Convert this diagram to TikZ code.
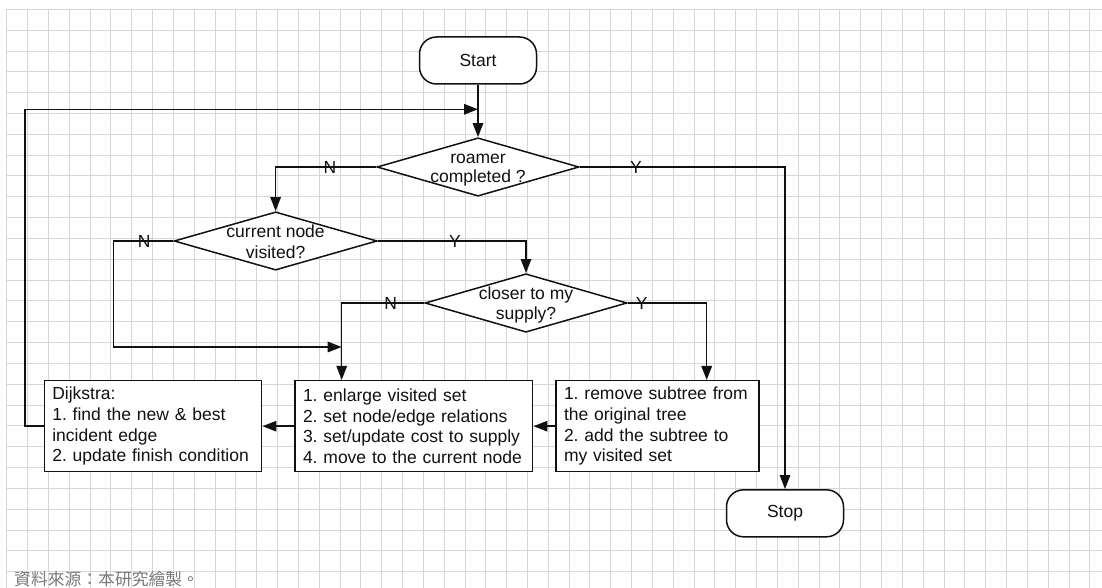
\documentclass[tikz,border=0pt]{standalone}
\usepackage{fontspec}
\setmainfont{Liberation Sans}
\newfontfamily\cjk{Noto Sans CJK TC}
\usetikzlibrary{shapes.geometric,arrows.meta}
\frenchspacing
\definecolor{gridgray}{HTML}{D6D6D6}
\definecolor{ink}{HTML}{111111}
\definecolor{notegray}{HTML}{7A7A7A}
\tikzset{
  txt/.style={font=\fontsize{17.5pt}{20.7pt}\selectfont, text=ink},
  gridline/.style={draw=gridgray, line width=0.9pt},
  terminal/.style={txt, draw=ink, line width=1.5pt, fill=white, rounded corners=17pt,
    minimum width=117pt, minimum height=47pt, inner sep=0pt},
  decision/.style={draw=ink, line width=1.5pt, fill=white, diamond, inner sep=0pt},
  dtext/.style={txt, align=center, inner sep=0pt},
  stepbox/.style={txt, draw=ink, line width=1.5pt, fill=white, align=left,
    inner xsep=8pt, inner ysep=0pt, minimum height=91pt},
  arr/.style={draw=ink, line width=1.5pt, -{Triangle[length=14pt,width=10.5pt]}},
  yn/.style={txt, inner sep=0pt}
}
\begin{document}
\begin{tikzpicture}[x=1pt, y=-1pt]
\useasboundingbox (0,0) rectangle (1102,588);
\fill[white] (0,0) rectangle (1102,588);
% background grid
\foreach \i in {0,...,52}
  \draw[gridline] ({6.7+20.83*\i}, 9.3) -- ({6.7+20.83*\i}, 588);
\foreach \j in {0,...,27}
  \draw[gridline] (6.7, {9.3+20.83*\j}) -- (1102, {9.3+20.83*\j});

% terminals
\node[terminal] (start) at (478,60.5) {Start};
\node[terminal] (stop) at (785,513.3) {Stop};

% decisions
\node[decision, minimum width=202pt, minimum height=58.4pt] (d1) at (478,167) {};
\node[dtext, font=\fontsize{17.5pt}{19.4pt}\selectfont] (d1t) at (478,170) {roamer\\completed ?};
\node[decision, minimum width=203pt, minimum height=58.3pt] (d2) at (275.6,241) {};
\node[dtext] (d2t) at (275.6,242) {current node\\visited?};
\node[decision, minimum width=202pt, minimum height=58.5pt] (d3) at (526,303) {};
\node[dtext] (d3t) at (526,305) {closer to my\\supply?};

% process boxes
\node[stepbox, minimum width=217.4pt, text width=201.4pt] (b1) at (153,426.2)
  {Dijkstra:\\1. find the new \& best\\incident edge\\2. update finish condition};
\node[stepbox, minimum width=237.7pt, text width=221.7pt] (b2) at (413.85,426.2)
  {1. enlarge visited set\\2. set node/edge relations\\3. set/update cost to supply\\4. move to the current node};
\node[stepbox, minimum width=203pt, text width=187pt] (b3) at (657.5,426.2)
  {1. remove subtree from\\the original tree\\2. add the subtree to\\my visited set};

% bend points of the connectors
\coordinate (lp) at (25,109.3);
\coordinate (nl) at (113.3,347);
\coordinate (j) at (341.7,347);
\coordinate (yr) at (706.7,303);

% connectors
\draw[arr] (start) -- (d1);
\draw[arr] (d1.west) -| (d2.north);
\draw[arr] (d1.east) -| (stop.north);
\draw[arr] (d2.west) -| (nl) -- (j);
\draw[arr] (d2.east) -| (d3.north);
\draw[arr] (d3.west) -| (b2.north -| j);
\draw[arr] (d3.east) -- (yr) -- (yr |- b3.north);
\draw[arr] (b3.west) -- (b2.east);
\draw[arr] (b2.west) -- (b1.east);
\draw[arr] (b1.west) -| (lp) -- (lp -| start);

% branch labels
\node[yn] (n1) at (330,167) {N};
\node[yn] (y1) at (636,167) {Y};
\node[yn] (n2) at (144.3,241) {N};
\node[yn] (y2) at (455,241) {Y};
\node[yn] (n3) at (390.7,303) {N};
\node[yn] (y3) at (641.7,303) {Y};

% source note
\node[anchor=base west, inner sep=0pt, text=notegray, font=\cjk\fontsize{16.8pt}{18pt}\selectfont]
  (note) at (14,585) {資料來源：本研究繪製。};
\end{tikzpicture}
\end{document}
